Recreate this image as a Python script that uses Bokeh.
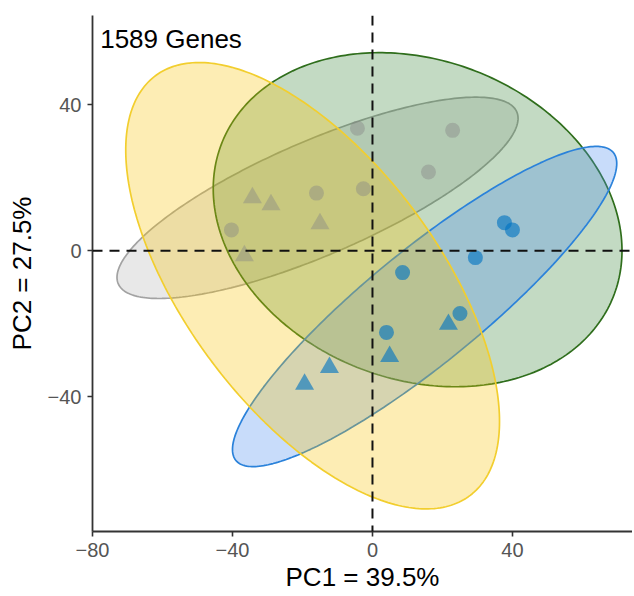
import numpy as np
from bokeh.plotting import figure
from bokeh.models import Span, Label, FixedTicker
from bokeh.embed import file_html
from bokeh.resources import INLINE

# ---- data ----
gray_circle_x = [-40.3, -16.0, -2.6, -4.3, 22.9, 16.0]
gray_circle_y = [5.7, 15.8, 17.0, 33.6, 33.0, 21.6]
gray_tri_x = [-34.3, -29.0, -15.0, -36.6]
gray_tri_y = [14.5, 12.6, 7.4, -1.4]
blue_circle_x = [37.7, 40.0, 29.4, 8.6, 4.0, 25.0]
blue_circle_y = [7.7, 5.7, -1.9, -6.0, -22.4, -17.2]
blue_tri_x = [4.9, 21.7, -12.3, -19.4]
blue_tri_y = [-29.0, -20.2, -32.0, -36.6]

# ellipse summaries: centre, half-extent in x, half-extent in y, correlation
ell_names = ["gray", "green", "blue", "yellow"]
ell_cx = [-15.7, 12.9, 14.9, -17.1]
ell_cy = [14.5, 8.5, -15.3, -9.6]
ell_wx = [57.3, 58.4, 54.9, 53.4]
ell_hy = [27.6, 45.8, 43.9, 61.2]
ell_r = [0.79, -0.185, 0.893, -0.608]

x_ticks = [-80, -40, 0, 40]
y_ticks = [-40, 0, 40]
title_text = "1589 Genes"
x_label = "PC1 = 39.5%"
y_label = "PC2 = 27.5%"

line_cols = {"gray": "#A2A2A2", "green": "#2F6E1C", "blue": "#2B82DA", "yellow": "#F2CE2E"}
fill_cols = {"gray": "#B2B2B2", "green": "#378437", "blue": "#488AEE", "yellow": "#F8C305"}

FONT = "Liberation Sans"

p = figure(width=632, height=594, output_backend="svg", toolbar_location=None,
           x_range=(-80, 74.3), y_range=(-77, 64.5),
           min_border_left=92, min_border_right=0, min_border_top=15, min_border_bottom=61)
p.outline_line_color = None
p.grid.visible = False
p.background_fill_color = "white"

t = np.linspace(0, 2 * np.pi, 300)
for name, cx, cy, wx, hy, r in zip(ell_names, ell_cx, ell_cy, ell_wx, ell_hy, ell_r):
    xs = cx + wx * np.cos(t)
    ys = cy + hy * (r * np.cos(t) + np.sqrt(1 - r * r) * np.sin(t))
    p.patch(xs, ys, fill_color=fill_cols[name], fill_alpha=0.3,
            line_color=line_cols[name], line_width=1.7)

# points on top, semi-transparent
p.scatter(gray_circle_x, gray_circle_y, marker="circle", size=15, color="#868686", alpha=0.42, line_color=None)
p.scatter(gray_tri_x, gray_tri_y, marker="triangle", size=19, color="#868686", alpha=0.42, line_color=None)
p.scatter(blue_circle_x, blue_circle_y, marker="circle", size=15, color="#0073C2", alpha=0.62, line_color=None)
p.scatter(blue_tri_x, blue_tri_y, marker="triangle", size=19, color="#0073C2", alpha=0.62, line_color=None)

p.add_layout(Span(location=0, dimension="height", line_color="#111111", line_dash="10 7", line_width=2))
p.add_layout(Span(location=0, dimension="width", line_color="#111111", line_dash="10 7", line_width=2))

p.add_layout(Label(x=-77.8, y=62.2, text=title_text, text_font=FONT, text_font_size="26px",
                   text_color="black", text_baseline="top", text_align="left"))

for ax, ticks, lab in ((p.xaxis[0], x_ticks, x_label), (p.yaxis[0], y_ticks, y_label)):
    ax.ticker = FixedTicker(ticks=ticks)
    ax.axis_label = lab
    ax.axis_label_text_font = FONT
    ax.axis_label_text_font_size = "26px"
    ax.axis_label_text_font_style = "normal"
    ax.axis_label_text_color = "black"
    ax.major_label_text_font = FONT
    ax.major_label_text_font_size = "20px"
    ax.major_label_text_color = "#555555"
    ax.axis_line_color = "#333333"
    ax.axis_line_width = 1.8
    ax.major_tick_line_color = "#333333"
    ax.major_tick_line_width = 1.6
    ax.major_tick_out = 5
    ax.major_tick_in = 0
    ax.minor_tick_line_color = None
    ax.major_label_standoff = 6

p.xaxis[0].axis_label_standoff = 2
p.yaxis[0].axis_label_standoff = 8

open("out.html", "w").write(file_html(p, INLINE))
